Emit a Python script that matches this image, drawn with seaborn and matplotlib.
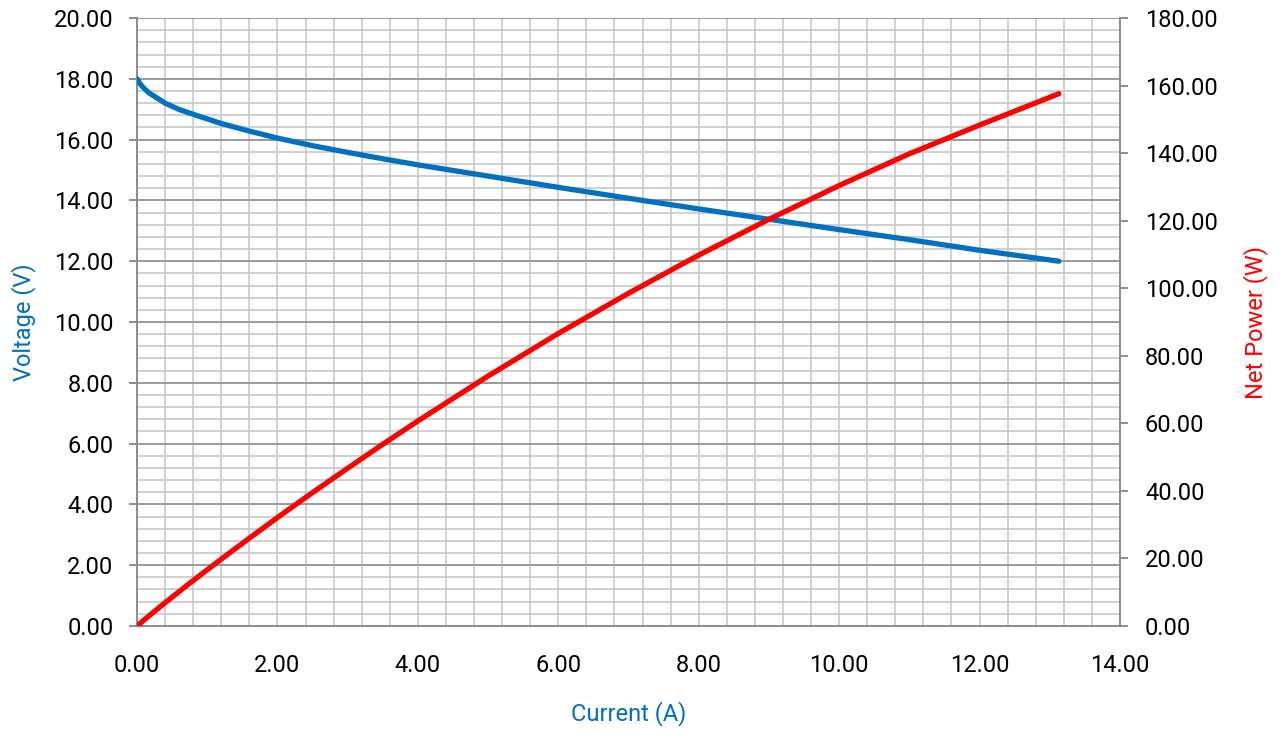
import numpy as np
import pandas as pd
import seaborn as sns
import matplotlib.pyplot as plt
from matplotlib.ticker import MultipleLocator, FormatStrFormatter

# values
current = [0.0, 0.03, 0.07, 0.12, 0.18, 0.25, 0.4, 0.6, 0.83, 1.2, 1.6, 2.0, 2.5, 3.0, 3.5,
           4.0, 5.0, 6.0, 7.0, 8.0, 9.0, 10.0, 11.0, 12.0, 13.13]
voltage = [18.0, 17.88, 17.76, 17.64, 17.52, 17.42, 17.2, 16.99, 16.81, 16.53, 16.28, 16.05, 15.8, 15.58, 15.37,
           15.17, 14.8, 14.43, 14.07, 13.72, 13.38, 13.04, 12.71, 12.36, 12.0]
net_power = [0.0, 0.54, 1.24, 2.12, 3.15, 4.36, 6.88, 10.2, 13.95, 19.8, 26.0, 32.1, 39.5, 46.7, 53.8,
             60.7, 74.0, 86.6, 98.5, 109.8, 120.4, 130.4, 139.8, 148.3, 157.6]

df = pd.DataFrame({'current': current, 'voltage': voltage, 'power': net_power})

sns.set_style('white')
plt.rcParams['font.family'] = ['Roboto', 'DejaVu Sans']

blue = '#0070C0'
red = '#FF0000'
spine_col = '#8c8c8c'

fig = plt.figure(figsize=(12.82, 7.30), dpi=100)
ax = fig.add_axes([0.1069, 0.1425, 0.8736 - 0.1069, 0.9753 - 0.1425])
ax2 = ax.twinx()

sns.lineplot(data=df, x='current', y='voltage', ax=ax, color=blue, linewidth=3.8,
             solid_capstyle='round', solid_joinstyle='round', zorder=5)
sns.lineplot(data=df, x='current', y='power', ax=ax2, color=red, linewidth=3.8,
             solid_capstyle='round', solid_joinstyle='round', zorder=5)

# left axis + grid
ax.set_xlim(0, 14)
ax.set_ylim(0, 20)
ax.xaxis.set_major_locator(MultipleLocator(2))
ax.xaxis.set_minor_locator(MultipleLocator(0.4))
ax.yaxis.set_major_locator(MultipleLocator(2))
ax.yaxis.set_minor_locator(MultipleLocator(0.4))
ax.xaxis.set_major_formatter(FormatStrFormatter('%.2f'))
ax.yaxis.set_major_formatter(FormatStrFormatter('%.2f'))
ax.grid(which='minor', axis='both', color='#c8c8c8', linewidth=1.2)
ax.grid(which='major', axis='x', color='#c8c8c8', linewidth=1.2)
ax.grid(which='major', axis='y', color='#9a9a9a', linewidth=1.4)
ax.set_axisbelow(True)

ax2.set_ylim(0, 180)
ax2.yaxis.set_major_locator(MultipleLocator(20))
ax2.yaxis.set_major_formatter(FormatStrFormatter('%.2f'))

for a in (ax, ax2):
    for s in a.spines.values():
        s.set_visible(False)
ax.spines['left'].set_visible(True)
ax.spines['bottom'].set_visible(True)
ax2.spines['right'].set_visible(True)
for s in (ax.spines['left'], ax.spines['bottom'], ax2.spines['right']):
    s.set_color(spine_col)
    s.set_linewidth(1.4)

ax.tick_params(axis='both', which='major', direction='out', length=6, width=1.4,
               color=spine_col, labelsize=17, labelcolor='#000000')
ax.tick_params(axis='y', pad=11)
ax.tick_params(axis='x', pad=14)
ax.tick_params(axis='both', which='minor', length=0)
ax2.tick_params(axis='y', which='major', direction='out', length=6, width=1.4,
                color=spine_col, labelsize=17, labelcolor='#000000', pad=12)

ax.set_xlabel('Current (A)', color=blue, fontsize=17, labelpad=17.5)
ax.set_ylabel('Voltage (V)', color=blue, fontsize=17, labelpad=13)
ax2.set_ylabel('Net Power (W)', color=red, fontsize=17, labelpad=18)

ax2.set_zorder(ax.get_zorder() + 1)
ax2.patch.set_visible(False)

fig.savefig('out.png', dpi=100)
